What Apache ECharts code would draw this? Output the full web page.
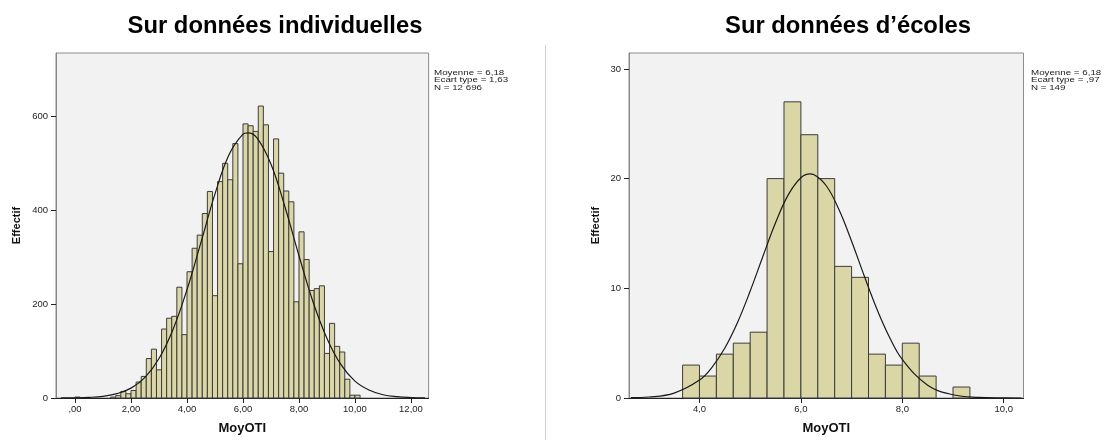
<!DOCTYPE html>
<html>
<head>
<meta charset="utf-8">
<script src="https://cdn.jsdelivr.net/npm/echarts@6/dist/echarts.min.js"></script>
<style>
  html, body { margin: 0; padding: 0; background: #fff; }
  #main { width: 1105px; height: 440px; }
</style>
</head>
<body>
<div id="main"></div>
<script>
// histogramme individuel : classes de largeur 2/11 a partir de 0
const leftBinStart = 0
const leftBinWidth = 2 / 11
const leftCounts = [
  2, 0, 0, 0, 0, 0, 0, 2, 5, 14, 9,
  16, 34, 46, 84, 104, 60, 147, 170, 174, 236, 135,
  269, 319, 347, 393, 440, 218, 461, 500, 465, 542, 286,
  584, 580, 568, 622, 582, 312, 552, 479, 441, 418, 205,
  354, 295, 229, 233, 239, 95, 159, 110, 98, 40, 6,
  6
]
// courbe normale
const leftCurveX = [-0.5, 0, 0.5, 1, 1.5, 2, 2.5, 3, 3.5, 4, 4.5, 5, 5.5, 6, 6.18, 6.5, 7, 7.5, 8, 8.5, 9, 9.5, 10, 10.5, 11, 11.5, 12, 12.5]
const leftCurveY = [0.1, 0.4, 1.3, 3.6, 9.2, 21, 44, 84, 146, 231, 332, 435, 518, 562, 565, 554, 498, 407, 303, 205, 127, 71, 36, 17, 7, 2.8, 1, 0.3]
const leftXTicks = [0, 2, 4, 6, 8, 10, 12]
const leftYTicks = [0, 200, 400, 600]

// histogramme ecoles : classes de largeur 1/3 a partir de 3,67
const rightBinStart = 11 / 3
const rightBinWidth = 1 / 3
const rightCounts = [3, 2, 4, 5, 6, 20, 27, 24, 20, 12, 11, 4, 3, 5, 2, 0, 1]
const rightCurveX = [2.65, 3, 3.5, 4, 4.25, 4.5, 4.75, 5, 5.25, 5.5, 5.75, 6, 6.18, 6.25, 6.5, 6.75, 7, 7.25, 7.5, 7.75, 8, 8.5, 9, 9.5, 10, 10.35]
const rightCurveY = [0.03, 0.09, 0.45, 1.63, 2.82, 4.56, 6.89, 9.75, 12.9, 15.98, 18.52, 20.08, 20.43, 20.38, 19.35, 17.19, 14.29, 11.12, 8.09, 5.51, 3.51, 1.17, 0.3, 0.06, 0.01, 0]
const rightXTicks = [4, 6, 8, 10]
const rightYTicks = [0, 10, 20, 30]

const font = 'Liberation Sans'
const barFill = '#dbd6a6'
const barLine = '#3c3c3c'

function histItem(width) {
  return function (params, api) {
    let x0 = api.value(0)
    let y = api.value(1)
    if (!y) return null
    let p0 = api.coord([x0, 0])
    let p1 = api.coord([x0 + width, y])
    return {
      type: 'rect',
      shape: { x: p0[0], y: p1[1], width: p1[0] - p0[0], height: p0[1] - p1[1] },
      style: { fill: barFill, stroke: barLine, lineWidth: 1 }
    }
  }
}

function binData(start, width, counts) {
  return counts.map((c, i) => [start + i * width, c])
}

function pairs(xs, ys) {
  return xs.map((x, i) => [x, ys[i]])
}

function xAxisOf(idx, min, max, ticks, fmt) {
  return {
    type: 'value', gridIndex: idx, min: min, max: max,
    name: 'MoyOTI', nameLocation: 'middle', nameGap: 24,
    nameTextStyle: { fontFamily: font, fontWeight: 'bold', fontSize: 13, color: '#111' },
    axisLine: { show: true, onZero: false, lineStyle: { color: '#222', width: 1 } },
    axisTick: { show: true, length: 5, customValues: ticks, lineStyle: { color: '#222' } },
    axisLabel: { customValues: ticks, formatter: fmt, margin: 6, fontFamily: font, fontSize: 9.5, color: '#222' },
    splitLine: { show: false }
  }
}

function yAxisOf(idx, max, ticks, gap) {
  return {
    type: 'value', gridIndex: idx, min: 0, max: max,
    name: 'Effectif', nameLocation: 'middle', nameRotate: 90, nameGap: gap,
    nameTextStyle: { fontFamily: font, fontWeight: 'bold', fontSize: 11, color: '#111' },
    axisLine: { show: true, onZero: false, lineStyle: { color: '#888', width: 1 } },
    axisTick: { show: true, length: 5, customValues: ticks, lineStyle: { color: '#222' } },
    axisLabel: { customValues: ticks, margin: 8, fontFamily: font, fontSize: 9.5, color: '#222' },
    splitLine: { show: false }
  }
}

function statsText(x, text) {
  return {
    type: 'text', x: x, y: 69, scaleX: 1.22,
    style: { text: text, fontFamily: font, fontSize: 8, lineHeight: 7.5, fill: '#222' }
  }
}

function titleText(x, text) {
  return {
    type: 'text', x: x, y: 26,
    style: { text: text, fontFamily: font, fontWeight: 'bold', fontSize: 23.8, fill: '#000', align: 'center', verticalAlign: 'middle' }
  }
}

let myChart = echarts.init(document.getElementById('main'))
let option = {
  animation: false,
  grid: [
    { left: 56, top: 53, width: 372.6, height: 349, show: true, backgroundColor: '#f2f2f2', borderColor: '#8c8c8c', borderWidth: 1 },
    { left: 629, top: 53, width: 394.5, height: 348.5, show: true, backgroundColor: '#f2f2f2', borderColor: '#8c8c8c', borderWidth: 1 }
  ],
  xAxis: [
    xAxisOf(0, -0.68, 12.63, leftXTicks, v => (v === 0 ? '' : v.toString()) + ',00'),
    xAxisOf(1, 2.61, 10.39, rightXTicks, v => v + ',0')
  ],
  yAxis: [
    yAxisOf(0, 735, leftYTicks, 34),
    yAxisOf(1, 31.45, rightYTicks, 28)
  ],
  series: [
    {
      type: 'custom', xAxisIndex: 0, yAxisIndex: 0,
      renderItem: histItem(leftBinWidth),
      encode: { x: 0, y: 1 },
      data: binData(leftBinStart, leftBinWidth, leftCounts)
    },
    {
      type: 'line', xAxisIndex: 0, yAxisIndex: 0, smooth: 0.4, showSymbol: false,
      lineStyle: { color: '#1a1a1a', width: 1.2 },
      data: pairs(leftCurveX, leftCurveY)
    },
    {
      type: 'custom', xAxisIndex: 1, yAxisIndex: 1,
      renderItem: histItem(rightBinWidth),
      encode: { x: 0, y: 1 },
      data: binData(rightBinStart, rightBinWidth, rightCounts)
    },
    {
      type: 'line', xAxisIndex: 1, yAxisIndex: 1, smooth: 0.4, showSymbol: false,
      lineStyle: { color: '#1a1a1a', width: 1.2 },
      data: pairs(rightCurveX, rightCurveY)
    }
  ],
  graphic: [
    titleText(275, 'Sur données individuelles'),
    titleText(848, 'Sur données d’écoles'),
    statsText(434, 'Moyenne = 6,18\nEcart type = 1,63\nN = 12 696'),
    statsText(1031, 'Moyenne = 6,18\nEcart type = ,97\nN = 149'),
    {
      type: 'line', shape: { x1: 545.5, y1: 45, x2: 545.5, y2: 440 },
      style: { stroke: '#cfcfcf', lineWidth: 1 }
    }
  ]
}
myChart.setOption(option)
</script>
</body>
</html>
